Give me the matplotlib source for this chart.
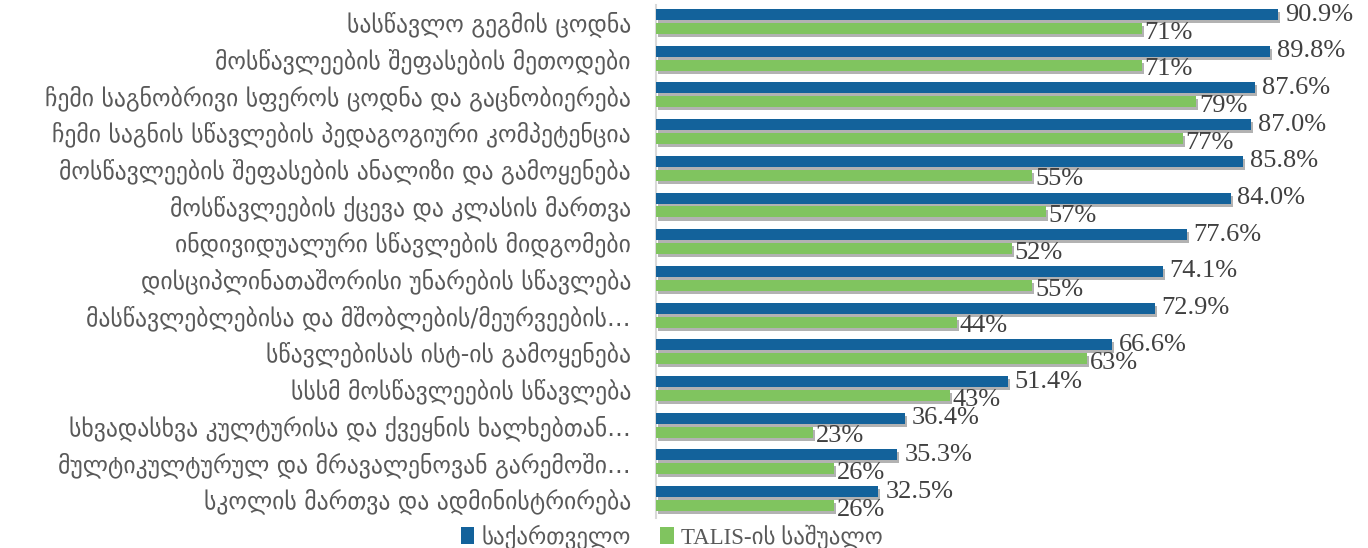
import matplotlib
matplotlib.use("Agg")
import matplotlib.pyplot as plt
import matplotlib.patheffects as pe
from matplotlib.patches import Patch
import numpy as np

categories = [
    "სასწავლო გეგმის ცოდნა",
    "მოსწავლეების შეფასების მეთოდები",
    "ჩემი საგნობრივი სფეროს ცოდნა და გაცნობიერება",
    "ჩემი საგნის სწავლების პედაგოგიური კომპეტენცია",
    "მოსწავლეების შეფასების ანალიზი და გამოყენება",
    "მოსწავლეების ქცევა და კლასის მართვა",
    "ინდივიდუალური სწავლების მიდგომები",
    "დისციპლინათაშორისი უნარების სწავლება",
    "მასწავლებლებისა და მშობლების/მეურვეების…",
    "სწავლებისას ისტ-ის გამოყენება",
    "სსსმ მოსწავლეების სწავლება",
    "სხვადასხვა კულტურისა და ქვეყნის ხალხებთან…",
    "მულტიკულტურულ და მრავალენოვან გარემოში…",
    "სკოლის მართვა და ადმინისტრირება",
]
georgia = [90.9, 89.8, 87.6, 87.0, 85.8, 84.0, 77.6, 74.1, 72.9, 66.6, 51.4, 36.4, 35.3, 32.5]
talis = [71, 71, 79, 77, 55, 57, 52, 55, 44, 63, 43, 23, 26, 26]
series_names = ["საქართველო", "TALIS-ის საშუალო"]

BLUE = "#13629B"
GREEN = "#80C45F"
LABEL_GRAY = "#595959"
VAL_GRAY = "#404040"
GEO_FONT = ["DejaVu Sans"]
NUM_FONT = ["Liberation Serif", "DejaVu Serif"]

fig = plt.figure(figsize=(13.68, 5.48), dpi=100)
ax = fig.add_axes([0.4795, 0.0547, 0.5, 0.9362])

y = np.arange(len(categories))
h = 0.30
off = 0.19
shadow = [pe.SimplePatchShadow(offset=(1.5, -2.2), shadow_rgbFace="#555555", alpha=0.45), pe.Normal()]

b1 = ax.barh(y - off, georgia, height=h, color=BLUE, zorder=3)
b2 = ax.barh(y + off, talis, height=h, color=GREEN, zorder=3)
for bar in list(b1) + list(b2):
    bar.set_path_effects(shadow)

for yi, v in zip(y, georgia):
    ax.annotate(f"{v:.1f}%", xy=(v, yi - off), xytext=(5, 0), textcoords="offset points",
                ha="left", va="center", fontsize=19, family=NUM_FONT, color=VAL_GRAY, zorder=5)
for yi, v in zip(y, talis):
    ax.annotate(f"{v:d}%", xy=(v, yi + off), xytext=(2, -3), textcoords="offset points",
                ha="left", va="center", fontsize=19, family=NUM_FONT, color=VAL_GRAY, zorder=5)

ax.set_xlim(0, 100)
ax.set_ylim(13.53, -0.45)
ax.set_yticks(y)
ax.set_yticklabels(categories, fontsize=17, family=GEO_FONT, color=LABEL_GRAY)
ax.tick_params(axis="y", length=0, pad=18)
ax.set_xticks([])
for s in ["top", "right", "bottom"]:
    ax.spines[s].set_visible(False)
ax.spines["left"].set_color("#D9D9D9")
ax.spines["left"].set_linewidth(1.5)

handles = [Patch(facecolor=BLUE, label=series_names[0]), Patch(facecolor=GREEN, label=series_names[1])]
leg = fig.legend(handles=handles, loc="lower center", bbox_to_anchor=(0.491, -0.04), ncol=2,
                 frameon=False, handlelength=0.6, handleheight=0.75, handletextpad=0.3,
                 columnspacing=1.3, prop={"family": ["Liberation Serif", "DejaVu Sans"], "size": 16.5})
for t in leg.get_texts():
    t.set_color(LABEL_GRAY)

fig.savefig("out.png", dpi=100)
